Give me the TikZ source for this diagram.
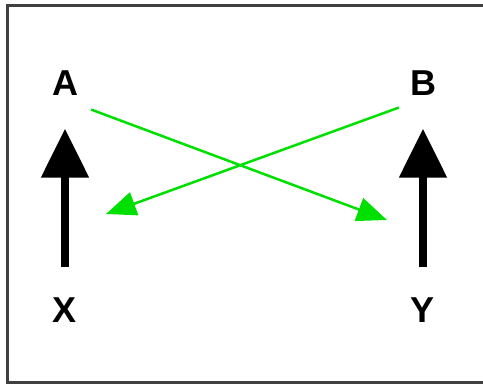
\documentclass[tikz,border=0pt]{standalone}
\usepackage{fontspec}
\setmainfont{Liberation Sans}
\usetikzlibrary{arrows.meta,positioning}

\begin{document}
\begin{tikzpicture}[
    x=1pt, y=-1pt,
    label/.style={inner sep=0pt, font=\fontsize{36}{36}\selectfont\bfseries},
    up/.style={draw=black, line width=8pt, -{Triangle[length=49pt,width=46pt]}},
    cross/.style={draw=green!80!black!60!green, line width=2.5pt, -{Triangle[length=30pt,width=24pt]}},
    frame/.style={draw=black!75, line width=3pt}
]
\useasboundingbox (0,0) rectangle (483,385);

% Frame
\draw [frame] (483,5.5) -| (7,383) -- (483,383);

% Labels
\node (A) [label] at (65,83) {A};
\node (B) [label] at (423,83) {B};
\node (X) [label] at (65,310) {X};
\node (Y) [label] at (423,310) {Y};

% Ends of the green arrows
\coordinate (nearY) at (387,220);
\coordinate (nearX) at (106,214);

% Arrows
\draw [up, shorten <=30pt, shorten >=33pt] (X) -- (A);
\draw [up, shorten <=30pt, shorten >=33pt] (Y) -- (B);

\draw [cross] ([xshift=13pt,yshift=-14pt]A.south east) -- (nearY);
\draw [cross] ([xshift=-11pt,yshift=-12pt]B.south west) -- (nearX);

\end{tikzpicture}
\end{document}
